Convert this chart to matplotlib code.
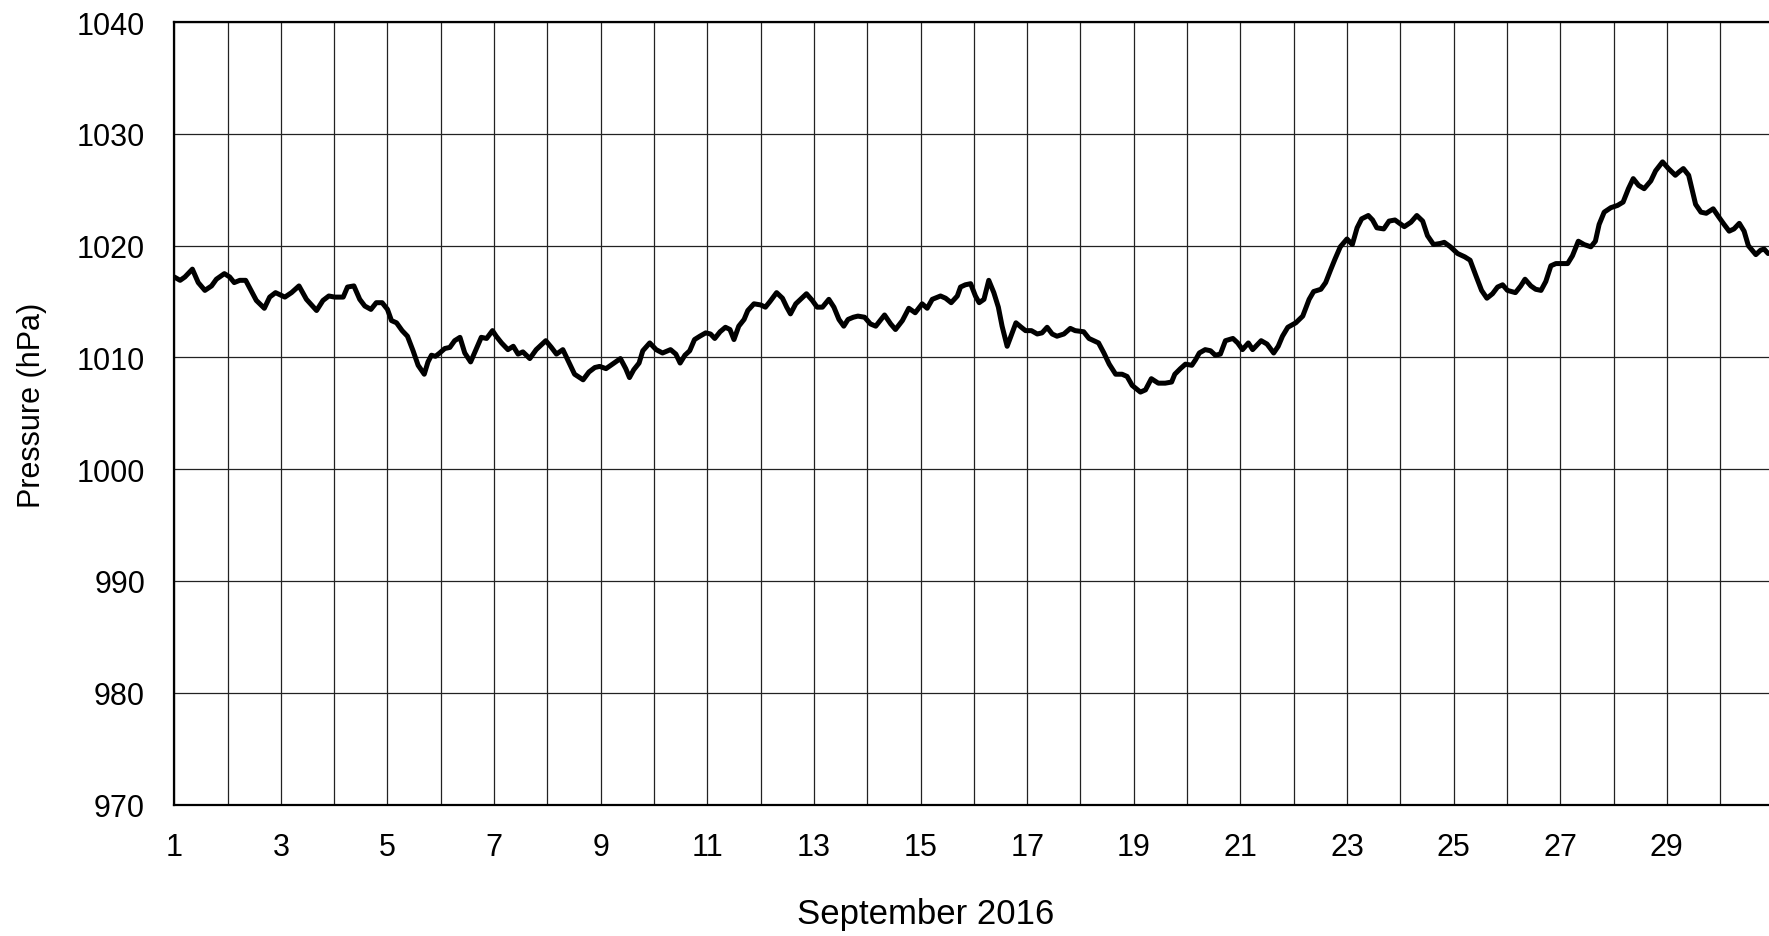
# -------------------------------------------------------------------------------------
# Library
import matplotlib
matplotlib.use('Agg')
import matplotlib.pyplot as plt
# -------------------------------------------------------------------------------------


# -------------------------------------------------------------------------------------
# Data (day of month, fractional) and pressure [hPa]
days = [
    1.0, 1.11, 1.2, 1.34, 1.45, 1.575, 1.7, 1.79, 1.94, 2.04, 2.125, 2.23, 2.34, 2.44,
    2.54, 2.69, 2.79, 2.9, 3.075, 3.2, 3.34, 3.48, 3.67, 3.79, 3.9, 4.01, 4.17, 4.25,
    4.37, 4.48, 4.575, 4.69, 4.79, 4.9, 5.0, 5.075, 5.17, 5.275, 5.375, 5.48, 5.575,
    5.69, 5.76, 5.825, 5.9, 5.98, 6.075, 6.17, 6.26, 6.36, 6.45, 6.56, 6.66, 6.76,
    6.86, 6.97, 7.04, 7.14, 7.26, 7.36, 7.45, 7.54, 7.67, 7.79, 7.97, 8.075, 8.17,
    8.29, 8.39, 8.51, 8.67, 8.78, 8.89, 8.98, 9.1, 9.22, 9.37, 9.47, 9.54, 9.62, 9.72,
    9.79, 9.92, 10.04, 10.16, 10.31, 10.41, 10.49, 10.58, 10.67, 10.76, 10.86, 10.97,
    11.06, 11.14, 11.24, 11.34, 11.425, 11.5, 11.59, 11.69, 11.76, 11.875, 12.0, 12.09,
    12.175, 12.3, 12.41, 12.49, 12.56, 12.66, 12.75, 12.86, 12.97, 13.06, 13.16, 13.28,
    13.375, 13.47, 13.56, 13.64, 13.74, 13.825, 13.95, 14.06, 14.16, 14.325, 14.44,
    14.53, 14.66, 14.78, 14.9, 15.03, 15.125, 15.22, 15.375, 15.47, 15.575, 15.69,
    15.75, 15.84, 15.94, 16.03, 16.1, 16.19, 16.28, 16.375, 16.46, 16.53, 16.625,
    16.72, 16.79, 16.89, 16.97, 17.08, 17.19, 17.28, 17.375, 17.47, 17.56, 17.69,
    17.81, 17.9, 18.06, 18.16, 18.25, 18.34, 18.44, 18.54, 18.66, 18.78, 18.875,
    18.97, 19.125, 19.22, 19.33, 19.46, 19.59, 19.71, 19.77, 19.875, 19.97, 20.09,
    20.16, 20.23, 20.34, 20.44, 20.53, 20.625, 20.72, 20.86, 20.95, 21.04, 21.15,
    21.23, 21.39, 21.5, 21.625, 21.71, 21.79, 21.89, 22.04, 22.17, 22.29, 22.375,
    22.51, 22.6, 22.69, 22.775, 22.875, 23.0, 23.1, 23.19, 23.275, 23.4, 23.48, 23.56,
    23.69, 23.79, 23.9, 24.075, 24.2, 24.31, 24.42, 24.51, 24.625, 24.75, 24.825,
    24.94, 25.075, 25.21, 25.31, 25.42, 25.525, 25.625, 25.73, 25.825, 25.92, 26.01,
    26.16, 26.26, 26.34, 26.45, 26.54, 26.64, 26.73, 26.825, 26.92, 27.01, 27.14,
    27.23, 27.34, 27.45, 27.575, 27.66, 27.73, 27.825, 27.95, 28.075, 28.18, 28.28,
    28.37, 28.47, 28.575, 28.7, 28.79, 28.92, 29.03, 29.16, 29.23, 29.31, 29.41,
    29.47, 29.54, 29.64, 29.74, 29.87, 29.97, 30.075, 30.17, 30.26, 30.36, 30.45,
    30.53, 30.67, 30.76, 30.825, 30.9,
]

pressure = [
    1017.2, 1016.9, 1017.2, 1017.9, 1016.7, 1016.0, 1016.4, 1017.0, 1017.5, 1017.2,
    1016.7, 1016.9, 1016.9, 1016.0, 1015.1, 1014.4, 1015.4, 1015.8, 1015.4, 1015.8,
    1016.4, 1015.2, 1014.2, 1015.1, 1015.5, 1015.4, 1015.4, 1016.3, 1016.4, 1015.2,
    1014.6, 1014.3, 1014.9, 1014.9, 1014.3, 1013.3, 1013.1, 1012.4, 1011.9, 1010.6,
    1009.3, 1008.5, 1009.6, 1010.2, 1010.1, 1010.4, 1010.8, 1010.9, 1011.5, 1011.8,
    1010.4, 1009.6, 1010.7, 1011.8, 1011.7, 1012.4, 1011.9, 1011.3, 1010.7, 1011.0,
    1010.3, 1010.5, 1009.9, 1010.7, 1011.5, 1010.9, 1010.3, 1010.7, 1009.7, 1008.5,
    1008.0, 1008.7, 1009.1, 1009.2, 1009.0, 1009.4, 1009.9, 1009.0, 1008.2, 1008.9,
    1009.5, 1010.6, 1011.3, 1010.7, 1010.4, 1010.7, 1010.3, 1009.5, 1010.2, 1010.6,
    1011.6, 1011.9, 1012.2, 1012.1, 1011.7, 1012.3, 1012.7, 1012.5, 1011.6, 1012.8,
    1013.4, 1014.2, 1014.8, 1014.7, 1014.5, 1015.0, 1015.8, 1015.3, 1014.5, 1013.9,
    1014.8, 1015.2, 1015.7, 1015.1, 1014.5, 1014.5, 1015.2, 1014.5, 1013.4, 1012.8,
    1013.4, 1013.6, 1013.7, 1013.6, 1013.0, 1012.8, 1013.8, 1013.0, 1012.5, 1013.3,
    1014.4, 1014.0, 1014.8, 1014.4, 1015.2, 1015.5, 1015.3, 1014.9, 1015.5, 1016.3,
    1016.5, 1016.6, 1015.5, 1014.9, 1015.2, 1016.9, 1015.8, 1014.5, 1012.8, 1011.0,
    1012.2, 1013.1, 1012.7, 1012.4, 1012.4, 1012.1, 1012.2, 1012.7, 1012.1, 1011.9,
    1012.1, 1012.6, 1012.4, 1012.3, 1011.7, 1011.5, 1011.3, 1010.4, 1009.4, 1008.5,
    1008.5, 1008.3, 1007.5, 1006.9, 1007.1, 1008.1, 1007.7, 1007.7, 1007.8, 1008.5,
    1009.0, 1009.4, 1009.3, 1009.8, 1010.4, 1010.7, 1010.6, 1010.2, 1010.3, 1011.5,
    1011.7, 1011.3, 1010.7, 1011.3, 1010.7, 1011.5, 1011.2, 1010.4, 1011.0, 1011.9,
    1012.7, 1013.1, 1013.7, 1015.2, 1015.9, 1016.1, 1016.7, 1017.8, 1018.8, 1019.9,
    1020.6, 1020.1, 1021.6, 1022.4, 1022.7, 1022.3, 1021.6, 1021.5, 1022.2, 1022.3,
    1021.7, 1022.1, 1022.7, 1022.2, 1020.9, 1020.1, 1020.2, 1020.3, 1019.9, 1019.3,
    1019.0, 1018.7, 1017.3, 1016.0, 1015.3, 1015.7, 1016.3, 1016.5, 1016.0, 1015.8,
    1016.4, 1017.0, 1016.4, 1016.1, 1016.0, 1016.8, 1018.2, 1018.4, 1018.4, 1018.4,
    1019.1, 1020.4, 1020.1, 1019.9, 1020.4, 1021.9, 1023.0, 1023.4, 1023.6, 1023.9,
    1025.1, 1026.0, 1025.4, 1025.1, 1025.8, 1026.7, 1027.5, 1026.9, 1026.3, 1026.6,
    1026.9, 1026.3, 1025.1, 1023.7, 1023.0, 1022.9, 1023.3, 1022.6, 1021.9, 1021.3,
    1021.5, 1022.0, 1021.3, 1020.0, 1019.2, 1019.6, 1019.7, 1019.3,
]

grid_days = list(range(1, 32))
label_days = list(range(1, 30, 2))
y_ticks = [970, 980, 990, 1000, 1010, 1020, 1030, 1040]
# -------------------------------------------------------------------------------------


# -------------------------------------------------------------------------------------
# Figure
plt.rcParams['font.family'] = ['Liberation Sans', 'DejaVu Sans']
font_size = 22

fig = plt.figure(figsize=(17.69, 9.37), dpi=100)
ax = fig.add_axes([0.0985, 0.1403, 0.904, 0.835])

ax.plot(days, pressure, color='black', linewidth=3.6, solid_joinstyle='round',
        solid_capstyle='round', zorder=3)

ax.set_xlim(1, 31)
ax.set_ylim(970, 1040)

ax.set_xticks(grid_days)
ax.set_xticklabels([str(d) if d in label_days else '' for d in grid_days])
ax.set_yticks(y_ticks)
ax.set_yticklabels([str(v) for v in y_ticks])

ax.grid(True, color='#222222', linewidth=0.9)
ax.tick_params(axis='both', length=0, labelsize=font_size, colors='black')
ax.tick_params(axis='x', pad=20)
ax.tick_params(axis='y', pad=21)

for side in ['left', 'bottom', 'top']:
    ax.spines[side].set_linewidth(1.6)
    ax.spines[side].set_color('black')
ax.spines['right'].set_visible(False)

fig.text(0.0179, 0.567, 'Pressure (hPa)', rotation=90, ha='center', va='center',
         fontsize=font_size)
fig.text(0.523, 0.0235, 'September 2016', ha='center', va='center', fontsize=25)

fig.savefig('out.png', dpi=100)
# -------------------------------------------------------------------------------------
